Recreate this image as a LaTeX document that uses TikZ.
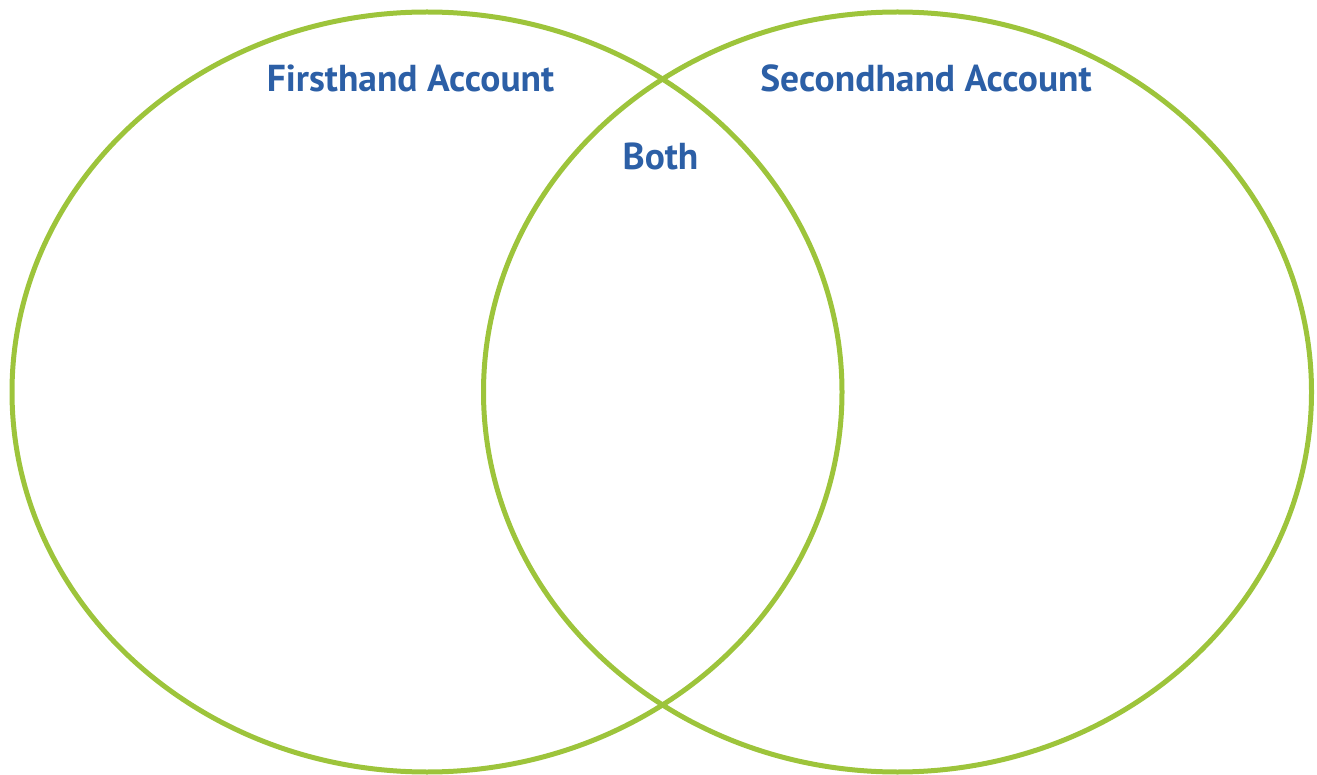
\documentclass[tikz,border=0pt]{standalone}
\usepackage{fontspec}
\setmainfont{PT Sans}
\definecolor{venngreen}{HTML}{9DC43B}
\definecolor{vennblue}{HTML}{2C5FA6}
\begin{document}
\begin{tikzpicture}[x=1pt,y=-1pt,
  ring/.style={draw=venngreen,line width=5pt},
  title/.style={anchor=base,text=vennblue,font=\bfseries\fontsize{37.5}{44}\selectfont,inner sep=0pt}]
\useasboundingbox (0,0) rectangle (1317,775);
\draw[ring] (427,392) ellipse [x radius=415, y radius=380];
\draw[ring] (897.5,392) ellipse [x radius=414, y radius=380];
\node[title] (first) at (410.5,92) {Firsthand Account};
\node[title] (second) at (926,92) {Secondhand Account};
\node[title] (both) at (660.5,170) {Both};
\end{tikzpicture}
\end{document}
